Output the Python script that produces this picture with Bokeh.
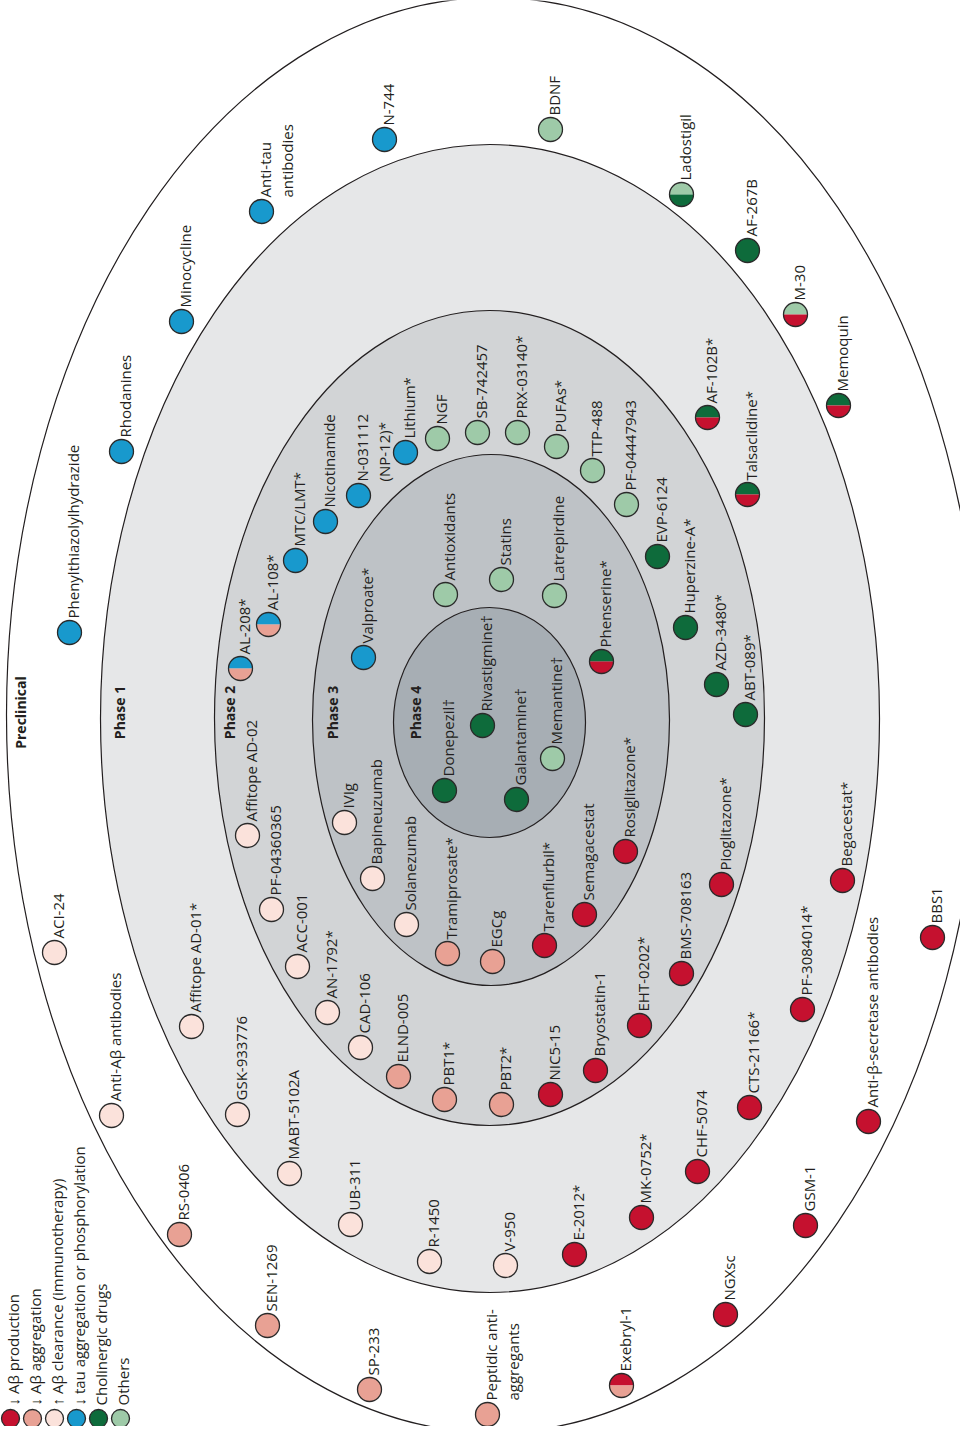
import math
from bokeh.plotting import figure
from bokeh.models import Range1d, ColumnDataSource
from bokeh.core.properties import value
from bokeh.embed import file_html
from bokeh.resources import INLINE

W, H = 960, 1426
IMG_H = 1443

# ---------------- phases (nested ellipses) ----------------
phases = ["Preclinical", "Phase 1", "Phase 2", "Phase 3", "Phase 4"]
phase_fill = ["#ffffff", "#e6e7e8", "#d2d4d6", "#bec2c6", "#a7aeb4"]
ell_cx = [501, 497.5, 497, 498.5, 497]
ell_cy = [722.5, 726, 725.5, 727.5, 730]
ell_w = [974, 779, 550, 357, 192]
ell_h = [1435, 1148, 815, 531, 230]
phase_label_x = [28, 127, 237, 340, 423]
phase_label_y = 720

# ---------------- mechanisms (legend) ----------------
mechanisms = ["prod", "aggr", "clear", "tau", "chol", "other"]
mech_labels = ["↓ Aβ production", "↓ Aβ aggregation", "↑ Aβ clearance (immunotherapy)",
               "↓ tau aggregation or phosphorylation", "Cholinergic drugs", "Others"]
mech_colors = ["#c5112f", "#e8a194", "#fbe2db", "#1899cd", "#0e6b3b", "#9ecaa8"]
legend_x = [18, 40, 62, 84, 106, 128]
legend_y = 1426

# ---------------- drugs ----------------
drug_names = [
    # preclinical
    "Phenylthiazolylhydrazide", "Rhodanines", "Minocycline", "Anti-tau\nantibodies", "N-744",
    "BDNF", "Ladostigil", "AF-267B", "M-30", "Memoquin", "BBS1", "Anti-β-secretase antibodies",
    "GSM-1", "NGXsc", "Exebryl-1", "Peptidic anti-\naggregants", "SP-233", "SEN-1269", "RS-0406",
    "Anti-Aβ antibodies", "ACI-24",
    # phase 1
    "Affitope AD-01*", "GSK-933776", "MABT-5102A", "UB-311", "R-1450", "V-950", "E-2012*",
    "MK-0752*", "CHF-5074", "CTS-21166*", "PF-3084014*", "Begacestat*", "Talsaclidine*", "AF-102B*",
    # phase 2
    "Affitope AD-02", "PF-04360365", "ACC-001", "AN-1792*", "CAD-106", "ELND-005", "PBT1*",
    "PBT2*", "NIC5-15", "Bryostatin-1", "EHT-0202*", "BMS-708163", "Pioglitazone*", "ABT-089*",
    "AZD-3480*", "Huperzine-A*", "EVP-6124", "PF-04447943", "TTP-488", "PUFAs*", "PRX-03140*",
    "SB-742457", "NGF", "Lithium*", "N-031112\n(NP-12)*", "Nicotinamide", "MTC/LMT*", "AL-108*",
    "AL-208*",
    # phase 3
    "Valproate*", "Antioxidants", "Statins", "Latrepirdine", "Phenserine*", "Rosiglitazone*",
    "Semagacestat", "Tarenflurbil*", "EGCg", "Tramiprosate*", "Solanezumab", "Bapineuzumab", "IVIg",
    # phase 4
    "Donepezil†", "Rivastigmine†", "Galantamine†", "Memantine†",
]
drug_phase = [0] * 21 + [1] * 14 + [2] * 29 + [3] * 13 + [4] * 4
mech_top = [
    "tau", "tau", "tau", "tau", "tau",
    "other", "other", "chol", "other", "chol", "prod", "prod",
    "prod", "prod", "prod", "aggr", "aggr", "aggr", "aggr",
    "clear", "clear",
    "clear", "clear", "clear", "clear", "clear", "clear", "prod",
    "prod", "prod", "prod", "prod", "prod", "chol", "chol",
    "clear", "clear", "clear", "clear", "clear", "aggr", "aggr",
    "aggr", "prod", "prod", "prod", "prod", "prod", "chol",
    "chol", "chol", "chol", "other", "other", "other", "other",
    "other", "other", "tau", "tau", "tau", "tau", "tau",
    "tau",
    "tau", "other", "other", "other", "chol", "prod",
    "prod", "prod", "aggr", "aggr", "clear", "clear", "clear",
    "chol", "chol", "chol", "other",
]
mech_bottom = list(mech_top)
second = {"Ladostigil": "chol", "M-30": "prod", "Memoquin": "prod", "Exebryl-1": "aggr",
          "Talsaclidine*": "prod", "AF-102B*": "prod", "Phenserine*": "prod",
          "AL-108*": "aggr", "AL-208*": "aggr"}
for i, n in enumerate(drug_names):
    if n in second:
        mech_bottom[i] = second[n]

pos_x = [
    77, 129, 189, 269, 392,
    558, 689, 755, 803, 846, 940, 876,
    813, 733, 629, 495, 377, 275, 187,
    119, 62,
    199, 245, 297, 358, 437, 513, 582,
    649, 705, 757, 810, 850, 755, 715,
    255, 279, 305, 335, 368, 406, 452,
    509, 558, 603, 647, 689, 729, 753,
    724, 693, 665, 634, 600, 564, 525,
    485, 445, 413, 366, 333, 303, 276,
    248,
    371, 453, 509, 562, 609, 633,
    592, 552, 500, 455, 414, 380, 352,
    452, 490, 524, 560,
]
pos_y = [
    640, 459, 329, 219, 147,
    137, 202, 258, 322, 413, 945, 1129,
    1233, 1322, 1393, 1422, 1397, 1333, 1242,
    1123, 960,
    1034, 1122, 1181, 1232, 1269, 1273, 1262,
    1225, 1179, 1115, 1017, 888, 502, 425,
    843, 917, 974, 1020, 1055, 1084, 1107,
    1112, 1102, 1078, 1033, 981, 892, 722,
    692, 635, 564, 512, 478, 454, 440,
    440, 446, 460, 503, 529, 568, 632,
    676,
    665, 602, 587, 603, 669, 859,
    922, 953, 969, 961, 932, 886, 830,
    798, 733, 807, 766,
]

color_of = dict(zip(mechanisms, mech_colors))

# ---------------- figure ----------------
p = figure(width=W, height=H, x_range=Range1d(8, 968), y_range=Range1d(IMG_H - 1434, IMG_H - 8),
           output_backend="svg", toolbar_location=None, min_border=0,
           x_axis_location=None, y_axis_location=None)
p.grid.visible = False
p.outline_line_color = None
p.background_fill_color = "white"
p.border_fill_color = "white"

INK = "#231f20"
for i in range(len(phases)):
    p.ellipse(x=[ell_cx[i]], y=[IMG_H - ell_cy[i]], width=ell_w[i], height=ell_h[i],
              fill_color=phase_fill[i], line_color=INK, line_width=1.2)

p.text(x=phase_label_x, y=[IMG_H - phase_label_y] * len(phases), text=phases, angle=math.pi / 2,
       text_align="center", text_baseline="middle", text_font=value("Open Sans"),
       text_font_size="14px", text_font_style="bold", text_color=INK)

# drug markers
R = 12
full = ColumnDataSource(dict(
    x=[pos_x[i] for i in range(len(drug_names)) if mech_top[i] == mech_bottom[i]],
    y=[IMG_H - pos_y[i] for i in range(len(drug_names)) if mech_top[i] == mech_bottom[i]],
    c=[color_of[mech_top[i]] for i in range(len(drug_names)) if mech_top[i] == mech_bottom[i]],
))
p.circle(x="x", y="y", radius=R, fill_color="c", line_color="#2a2a2a", line_width=1.3, source=full)

half_idx = [i for i in range(len(drug_names)) if mech_top[i] != mech_bottom[i]]
half = ColumnDataSource(dict(
    x=[pos_x[i] for i in half_idx],
    y=[IMG_H - pos_y[i] for i in half_idx],
    ct=[color_of[mech_top[i]] for i in half_idx],
    cb=[color_of[mech_bottom[i]] for i in half_idx],
))
p.wedge(x="x", y="y", radius=R, start_angle=0, end_angle=math.pi, fill_color="ct",
        line_color=None, source=half)
p.wedge(x="x", y="y", radius=R, start_angle=math.pi, end_angle=2 * math.pi, fill_color="cb",
        line_color=None, source=half)
p.circle(x="x", y="y", radius=R, fill_color=None, line_color="#2a2a2a", line_width=1.3, source=half)

# drug labels (rotated, reading upward from the marker)
lx, ly, lt = [], [], []
for i, n in enumerate(drug_names):
    for k, line in enumerate(n.split("\n")):
        lx.append(pos_x[i] + 3 + 22 * k)
        ly.append(IMG_H - pos_y[i] + 14)
        lt.append(line)
p.text(x=lx, y=ly, text=lt, angle=math.pi / 2, text_align="left", text_baseline="middle",
       text_font=value("Open Sans"), text_font_size="15px", text_color=INK)

# legend
p.circle(x=legend_x, y=[IMG_H - legend_y] * 6, radius=9, fill_color=mech_colors,
         line_color="#2a2a2a", line_width=1.3)
p.text(x=[v + 2 for v in legend_x], y=[IMG_H - legend_y + 13] * 6, text=mech_labels,
       angle=math.pi / 2, text_align="left", text_baseline="middle",
       text_font=value("Open Sans"), text_font_size="15px", text_color=INK)

open("out.html", "w").write(file_html(p, INLINE))
